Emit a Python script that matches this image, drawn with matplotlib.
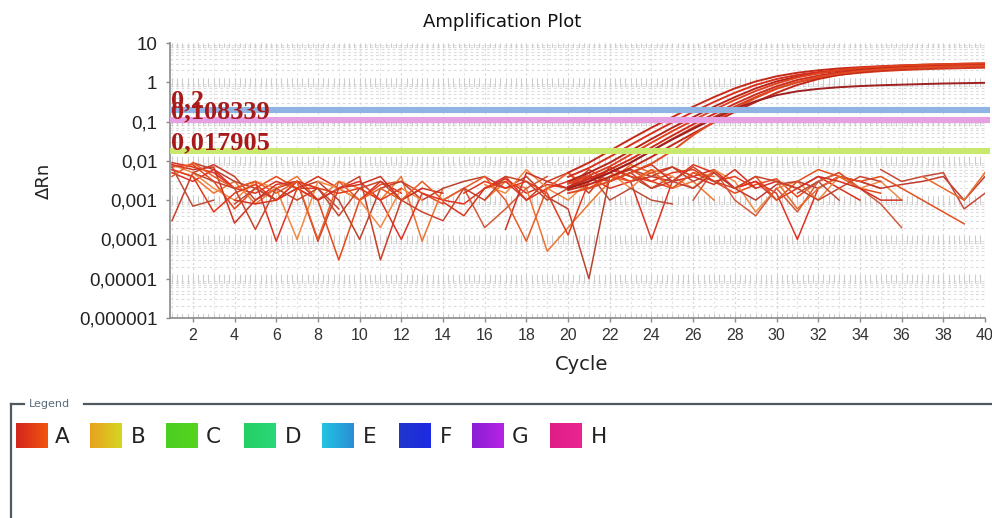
import numpy as np
import matplotlib
matplotlib.use("Agg")
import matplotlib.pyplot as plt
from matplotlib.lines import Line2D
from matplotlib.ticker import FixedLocator, FixedFormatter, NullLocator
from matplotlib.colors import to_rgb

plt.rcParams["lines.scale_dashes"] = False

N = np.nan

# ---------------------------------------------------------------- data
cycles = np.arange(1, 41)
amp_cycles = np.arange(20, 41)

ytick_values = [1e-6, 1e-5, 1e-4, 1e-3, 1e-2, 1e-1, 1, 10]
ytick_labels = ["0,000001", "0,00001", "0,0001", "0,001", "0,01", "0,1", "1", "10"]
xtick_values = list(range(2, 41, 2))

thresholds = [0.2, 0.108339, 0.017905]
threshold_labels = ["0,2", "0,108339", "0,017905"]
threshold_colors = ["#8fb4e3", "#e6a0e4", "#c9e96e"]

# baseline (noise) traces, well A, cycles 1..40 (NaN = no positive value)
noise_1 = [9e-3, 7e-3, 5e-3, 2e-3, 1.5e-3, 3e-3, 2e-3, 4e-3, 2e-3, 1e-3,
           3e-3, 1.5e-3, N, N, N, 2e-3, 3.5e-3, 1.5e-3, 2.5e-3, 2e-3,
           3.5e-3, 5e-3, 3e-3, 5e-3, 7e-3, 4e-3, 6e-3, 2e-3, 3e-3, 1e-3,
           2e-3, 4e-3, 2e-3, 1e-3, N, N, N, N, N, N]
noise_2 = [7e-3, 8e-3, 3e-3, 6e-4, 2e-3, 4e-3, 2e-3, 1e-3, 3e-5, 1e-3,
           2.5e-3, 3e-3, 1.5e-3, 8e-4, N, N, N, N, N, 3e-3,
           2e-3, 4e-3, 6e-3, 3e-3, 2e-3, 5e-3, 3e-3, 1.5e-3, 2.5e-3, 3.5e-3,
           1.2e-3, 3e-3, 5e-3, 2e-3, 1.5e-3, N, N, N, N, N]
noise_3 = [3e-4, 5e-3, 8e-3, 4e-3, 1e-3, 2e-3, 3e-3, 9e-5, 2e-3, 4e-3,
           3e-5, 1e-3, 2e-3, N, N, N, N, 1e-3, 3e-3, 5e-3,
           1.5e-3, 7e-3, 4e-3, 2e-3, 4e-3, N, N, N, N, N,
           N, N, N, N, N, N, N, N, N, N]
noise_4 = [6e-3, 4e-3, 1.5e-3, 3e-3, 8e-4, 2e-3, 4e-3, 1e-3, 3e-3, 2e-3,
           1e-3, 4e-3, 9e-5, 2e-3, N, 1e-3, 3e-3, 2e-3, 5e-5, 2e-4,
           8e-4, 3e-3, 8e-3, 5e-3, 2e-3, 3e-3, 1e-3, N, N, N,
           N, N, N, N, N, N, N, N, N, N]
noise_5 = [N, 9e-3, 6e-3, 3e-3, 2e-3, 1e-3, 2e-3, 3e-3, 1e-3, 1e-4,
           2e-3, 3e-3, 1e-3, 2e-3, 3e-3, 4e-3, 2e-3, 4e-3, 1.2e-3, 6e-4,
           1e-5, 4e-3, 6e-3, 4e-3, 7e-3, 3e-3, 5e-3, N, N, N,
           N, N, N, N, N, N, N, N, N, N]
noise_6 = [5e-3, 3e-3, 6e-3, 2e-3, 3e-3, 9e-5, 2e-3, 1e-3, 2e-3, 3e-3,
           1e-3, 1e-4, 1.5e-3, 1e-3, 8e-4, 2e-3, 4e-3, 1e-3, 2e-3, 3e-3,
           4e-3, 2e-3, 3e-3, 1e-4, 3e-3, 8e-3, 5e-3, 2e-3, 3e-3, 1.5e-3,
           1e-4, 2e-3, 4e-3, 3e-3, 2e-3, N, N, N, N, N]
noise_7 = [8e-3, 5e-3, 2e-3, 1e-3, 3e-3, 2e-3, 1e-4, 3e-3, 2e-3, 1e-3,
           2e-4, 2e-3, 1e-3, N, N, 2.5e-3, 1.5e-3, 6e-3, 2e-3, 1e-3,
           3e-3, 5e-3, 2e-3, 6e-3, 4e-3, 2e-3, 6e-3, 3e-3, 5e-4, 2e-3,
           3e-3, 1e-3, 4e-3, 2e-3, 3e-3, 1e-3, N, N, N, N]
noise_8 = [N, N, N, N, N, N, N, N, N, N,
           N, N, N, N, N, N, N, N, N, N,
           N, N, 3e-3, 4e-3, 3e-3, 2e-3, 5e-3, 2e-3, 1e-3, 2.5e-3,
           3e-3, 2e-3, 4e-3, 3e-3, 2e-3, 2.5e-3, 3e-3, 4e-3, 1e-3, 4e-3]
noise_9 = [N, N, N, N, N, N, N, N, N, N,
           N, N, N, 1e-3, 2e-3, 2e-4, 6e-4, 2e-3, 4e-3, N,
           N, N, N, N, N, 1e-3, 6e-3, 1e-3, 4e-4, 2e-3,
           5e-4, 3e-3, 5e-3, 2e-3, 8e-4, 2e-4, N, N, N, N]
noise_10 = [N, N, N, N, N, N, N, N, N, N,
            N, N, N, N, N, N, N, N, N, N,
            N, N, N, N, N, N, N, 2e-3, 4e-3, 1e-3,
            3e-3, 6e-3, 4e-3, 3e-3, 4e-3, 2e-3, 1e-3, 5e-4, 2.5e-4, N]
noise_11 = [N, N, N, 8e-4, 2e-3, 1e-3, 3e-3, 2e-3, 6e-4, N,
            N, N, N, N, N, N, N, N, N, N,
            N, N, N, N, N, N, N, N, N, N,
            N, N, N, N, 6e-3, 3e-3, 4e-3, 5e-3, 6e-4, 1.5e-3]
noise_12 = [N, N, N, N, N, N, N, N, N, N,
            N, N, N, N, N, N, N, N, N, N,
            N, N, N, N, N, N, N, N, N, 3e-3,
            6e-4, 2e-3, 4e-3, 2e-3, N, N, 4e-3, 2e-3, 1e-3, 5e-3]
noise_13 = [N, N, N, 1e-3, 8e-4, 1e-3, 2e-3, 2e-3, N, N,
            N, N, N, 9e-4, 4e-4, 2e-3, 3e-3, 1e-3, N, N,
            N, N, N, N, N, N, N, N, N, N,
            N, N, N, N, N, N, N, N, N, N]
noise_14 = [7e-3, 7e-4, 1e-3, N, N, N, N, N, N, N,
            N, N, N, N, N, N, N, N, N, 2e-3,
            5e-3, 1e-3, 2e-3, 1e-3, 8e-4, N, N, N, N, N,
            1.5e-3, 3e-3, 1e-3, N, N, N, N, N, N, N]
noise_15 = [6e-3, 4e-3, 5e-4, 1.5e-3, 2.5e-3, 1e-3, 3e-3, 2e-3, 1.5e-3, 2e-3,
            1e-3, 2e-3, N, N, 1.5e-3, 3e-3, 2e-3, 3e-3, 1.5e-3, 1.3e-4,
            3e-3, 6e-3, 4e-3, 3e-3, 5e-3, 6e-3, 3e-3, 4e-3, 2e-3, N,
            N, N, N, N, N, N, N, N, N, N]
noise_16 = [8e-3, 6e-3, 7e-3, 2.6e-4, 1e-3, 2.5e-3, 3e-3, 1e-3, 2e-3, 2.5e-3,
            4e-3, 1e-3, 2e-3, 1.5e-3, N, N, 1.8e-4, 5e-3, 3e-3, 2e-3,
            4e-3, 3e-3, 5e-3, 8e-3, 3e-3, 4e-3, 2.5e-3, 6e-3, 2e-3, 3e-3,
            2e-3, 4e-3, 3e-3, 2e-3, 1e-3, 1e-3, N, N, N, N]
noise_17 = [4e-3, 9e-3, 4e-3, 2e-3, 3e-3, 1.5e-3, 3e-3, 1e-4, 3e-3, 1e-3,
            2e-3, 1e-3, 3e-3, 1e-3, 2e-3, 4e-3, 1e-3, 9e-5, 2e-3, 5e-3,
            2e-3, 4e-3, 3e-3, 6e-3, 2e-3, 5e-3, 4e-3, N, N, N,
            N, N, N, N, N, N, N, N, N, N]
noise_18 = [N, 5e-3, 3e-3, 2e-3, 1.8e-4, 2e-3, 1e-3, 2e-3, 4e-4, 2e-3,
            3e-3, 1e-3, 5e-4, 3e-4, 2e-3, 1e-3, 4e-3, 3e-3, 1e-3, 2e-3,
            6e-3, 3e-3, 5e-3, 2e-3, 3e-3, 7e-3, 3e-3, 2e-3, 4e-3, 3e-3,
            2e-3, 1e-3, 2e-3, 4e-3, 3e-3, N, N, N, N, N]

# amplification curves, cycles 20..40
amp_1 = [0.005, 0.009, 0.018, 0.036, 0.07, 0.13, 0.24, 0.42, 0.70, 1.05, 1.42,
         1.75, 2.02, 2.25, 2.42, 2.57, 2.70, 2.80, 2.88, 2.95, 3.0]
amp_2 = [0.0039, 0.0066, 0.0126, 0.0254, 0.050, 0.0955, 0.177, 0.316, 0.542, 0.857, 1.21,
         1.54, 1.82, 2.05, 2.22, 2.36, 2.47, 2.56, 2.63, 2.69, 2.73]
amp_3 = [0.003, 0.005, 0.009, 0.018, 0.036, 0.07, 0.13, 0.24, 0.42, 0.70, 1.05,
         1.40, 1.70, 1.95, 2.15, 2.30, 2.42, 2.52, 2.60, 2.66, 2.71]
amp_4 = [0.0026, 0.0042, 0.0072, 0.0145, 0.029, 0.057, 0.107, 0.20, 0.355, 0.60, 0.93,
         1.33, 1.70, 2.02, 2.30, 2.50, 2.66, 2.80, 2.90, 2.98, 3.05]
amp_5 = [0.0022, 0.0035, 0.006, 0.011, 0.022, 0.044, 0.085, 0.156, 0.284, 0.49, 0.79,
         1.15, 1.48, 1.78, 2.0, 2.19, 2.34, 2.45, 2.54, 2.62, 2.68]
amp_6 = [0.002, 0.003, 0.005, 0.009, 0.018, 0.036, 0.07, 0.13, 0.24, 0.42, 0.70,
         1.0, 1.30, 1.55, 1.75, 1.92, 2.05, 2.15, 2.23, 2.30, 2.35]
amp_7 = [0.0018, 0.0025, 0.0039, 0.0066, 0.0126, 0.0254, 0.050, 0.0955, 0.177, 0.316, 0.542,
         0.857, 1.21, 1.54, 1.82, 2.05, 2.22, 2.36, 2.47, 2.56, 2.63]
amp_8 = [0.0015, 0.002, 0.003, 0.005, 0.0085, 0.018, 0.045, 0.10, 0.21, 0.40, 0.68,
         1.02, 1.36, 1.66, 1.92, 2.12, 2.28, 2.40, 2.50, 2.58, 2.64]
amp_low = [0.002, 0.003, 0.005, 0.009, 0.018, 0.035, 0.065, 0.12, 0.21, 0.33, 0.47,
           0.59, 0.68, 0.75, 0.80, 0.84, 0.87, 0.90, 0.93, 0.95, 0.97]

wells = ["A", "B", "C", "D", "E", "F", "G", "H"]
well_colors = [("#d2261c", "#f25410"), ("#e8a21e", "#d6d622"), ("#4ccf22", "#56d41e"),
               ("#24d064", "#2ad878"), ("#22c4e2", "#2a8ed6"), ("#2036cc", "#1e2ae2"),
               ("#8a1ed6", "#b624e2"), ("#de1e86", "#ea2494")]

noise_traces = [noise_1, noise_2, noise_3, noise_4, noise_5, noise_6, noise_7,
                noise_8, noise_9, noise_10, noise_11, noise_12, noise_13, noise_14,
                noise_15, noise_16, noise_17, noise_18]
noise_colors = ["#d9311c", "#e8461a", "#c8402a", "#ee7430", "#b8442e", "#e03222",
                "#f08a44", "#c23a30", "#d35a3a", "#e2501e", "#c44a36", "#e66a2c",
                "#d8381e", "#b9503a", "#e23a1a", "#cf3324", "#e85a26", "#c7452c"]
amp_traces = [amp_1, amp_2, amp_3, amp_4, amp_5, amp_6, amp_7, amp_8, amp_low]
amp_colors = ["#c62a1a", "#d8301c", "#b82418", "#e0401e", "#cc2c1a", "#d23a20",
              "#c02818", "#e04a22", "#9e2020"]

# ---------------------------------------------------------------- figure
W, H = 992, 518
fig = plt.figure(figsize=(W / 100, H / 100), dpi=100)
fig.patch.set_facecolor("white")

def fx(px):
    return px / W

def fy(py):
    return 1 - py / H

ax = fig.add_axes([fx(170), fy(318), fx(985) - fx(170), fy(43) - fy(318)])
ax.set_yscale("log")
ax.set_xlim(0.904, 40)
ax.set_ylim(1e-6, 10)

# grid: minor log lines, cycle lines and the hatched decade rows
for d in range(-6, 1):
    for m in range(2, 10):
        ax.axhline(m * 10.0 ** d, color="#dcdcdc", lw=0.8, ls=(0, (2, 2)), zorder=0)
for c in range(1, 41):
    ax.axvline(c, color="#e4e4e4" if c % 2 else "#d6d6d6", lw=0.8,
               ls=(0, (1.5, 2)), zorder=0)
hatch_x = np.arange(1, 40.01, 0.25)
ax.vlines(hatch_x, 1e-6, 10, colors="#cdcdcd", linewidth=0.8,
          linestyles=[(3.2, (6.4, 21.9))], zorder=0.5)

for vals, col in zip(noise_traces, noise_colors):
    ax.plot(cycles, vals, color=col, lw=1.1, zorder=2)
for vals, col in zip(amp_traces, amp_colors):
    ax.plot(amp_cycles, vals, color=col, lw=1.4, zorder=3)

for t, col in zip(thresholds, threshold_colors):
    ax.plot([0.904, 40.25], [t, t], color=col, lw=4.4, zorder=4,
            solid_capstyle="butt", clip_on=False)
for t, lab in zip(thresholds, threshold_labels):
    ax.annotate(lab, xy=(0.95, t), xytext=(0, 1.5), textcoords="offset points",
                ha="left", va="baseline", fontfamily="Liberation Serif",
                fontweight="bold", fontsize=19, color="#a81a1a", zorder=6)

ax.yaxis.set_major_locator(FixedLocator(ytick_values))
ax.yaxis.set_major_formatter(FixedFormatter(ytick_labels))
ax.yaxis.set_minor_locator(NullLocator())
ax.set_xticks(xtick_values)
ax.xaxis.set_minor_locator(NullLocator())
for s in ("top", "right"):
    ax.spines[s].set_visible(False)
for s in ("left", "bottom"):
    ax.spines[s].set_color("#8a8a8a")
    ax.spines[s].set_linewidth(1.2)
ax.tick_params(axis="y", length=3, width=1, color="#8a8a8a", pad=6,
               labelsize=13.5, labelcolor="#222222")
ax.tick_params(axis="x", length=3, width=1, color="#8a8a8a", pad=4,
               labelsize=11.5, labelcolor="#333333")
for lbl in ax.get_yticklabels():
    lbl.set_fontfamily(["Liberation Sans", "DejaVu Sans"])
for lbl in ax.get_xticklabels():
    lbl.set_fontfamily(["Liberation Sans Narrow", "DejaVu Sans Condensed", "Liberation Sans"])

fig.text(fx(502), fy(22), "Amplification Plot", ha="center", va="center",
         fontsize=13, family="DejaVu Sans", color="#111111")
fig.text(fx(44), fy(181), "ΔRn", ha="center", va="center", rotation=90,
         fontsize=13, family="DejaVu Sans", color="#222222")
fig.text(fx(582), fy(364), "Cycle", ha="center", va="center",
         fontsize=14, family="DejaVu Sans", color="#222222")

# ---------------------------------------------------------------- legend panel
frame = "#4e5a60"
fig.add_artist(Line2D([fx(10.5), fx(10.5)], [fy(404), fy(H + 2)], color=frame, lw=1.6))
fig.add_artist(Line2D([fx(10.5), fx(24)], [fy(404), fy(404)], color=frame, lw=1.6))
fig.add_artist(Line2D([fx(84), fx(W + 2)], [fy(404), fy(404)], color=frame, lw=1.6))
fig.text(fx(29), fy(404), "Legend", ha="left", va="center", fontsize=8,
         family="DejaVu Sans", color="#5a6a78")

swatch_left = [16, 90, 166, 244, 322, 399, 472, 550]
letter_center = [62, 138, 213, 293, 370, 446, 520, 599]
for name, (c1, c2), x0, xc in zip(wells, well_colors, swatch_left, letter_center):
    sax = fig.add_axes([fx(x0), fy(448), 32 / W, 25 / H])
    ramp = np.linspace(0, 1, 32)[None, :, None]
    grad = (1 - ramp) * np.array(to_rgb(c1)) + ramp * np.array(to_rgb(c2))
    sax.imshow(grad, aspect="auto", interpolation="bilinear")
    sax.axis("off")
    fig.text(fx(xc), fy(437), name, ha="center", va="center", fontsize=15.5,
             family="DejaVu Sans", color="#222222")

fig.savefig("out.png", dpi=100)
